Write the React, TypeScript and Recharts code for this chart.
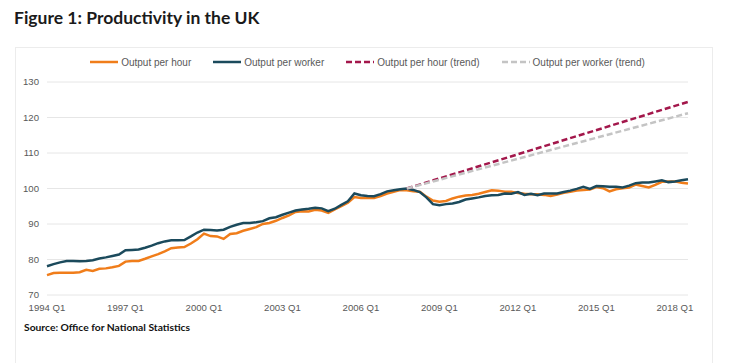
import { LineChart, Line, CartesianGrid, XAxis, YAxis } from "recharts";

// 1994 Q1 .. 2018 Q3, index 100 = 2007 Q4
const FIRST_YEAR = 1994;
const N_QUARTERS = 99;

const outputPerHour = [
  75.6, 76.2, 76.3, 76.3, 76.3, 76.4, 77.1, 76.8, 77.4, 77.5,
  77.8, 78.2, 79.4, 79.6, 79.6, 80.2, 80.9, 81.5, 82.3, 83.2,
  83.4, 83.5, 84.5, 85.7, 87.3, 86.6, 86.5, 85.8, 87.2, 87.4,
  88.1, 88.6, 89.1, 90.0, 90.3, 90.9, 91.7, 92.4, 93.4, 93.6,
  93.5, 94.0, 93.8, 93.1, 94.1, 95.0, 96.0, 97.6, 97.3, 97.3,
  97.3, 97.9, 98.6, 99.1, 99.6, 99.5, 99.2, 99.1, 97.7, 96.6,
  96.3, 96.5, 97.2, 97.7, 98.0, 98.2, 98.5, 99.0, 99.5, 99.4,
  99.1, 99.1, 98.7, 98.5, 98.4, 98.4, 98.2, 97.9, 98.3, 98.8,
  99.1, 99.4, 99.6, 99.7, 100.4, 100.1, 99.2, 99.8, 100.1, 100.3,
  101.1, 100.7, 100.3, 101.0, 101.9, 102.0, 102.0, 101.6, 101.4,
];

const outputPerWorker = [
  78.1, 78.7, 79.2, 79.6, 79.6, 79.5, 79.6, 79.8, 80.3, 80.6,
  81.0, 81.4, 82.6, 82.7, 82.8, 83.3, 83.9, 84.6, 85.1, 85.4,
  85.4, 85.5, 86.5, 87.6, 88.4, 88.3, 88.2, 88.4, 89.2, 89.8,
  90.3, 90.3, 90.5, 90.8, 91.6, 91.9, 92.6, 93.2, 93.8, 94.1,
  94.3, 94.6, 94.4, 93.6, 94.3, 95.4, 96.4, 98.6, 98.1, 97.9,
  97.8, 98.4, 99.2, 99.5, 99.8, 100.0, 99.6, 99.0, 97.5, 95.6,
  95.3, 95.6, 95.8, 96.2, 96.9, 97.2, 97.5, 97.9, 98.1, 98.2,
  98.6, 98.5, 99.0, 98.2, 98.5, 98.1, 98.6, 98.6, 98.6, 99.0,
  99.4, 99.9, 100.5, 99.9, 100.7, 100.6, 100.5, 100.5, 100.3, 100.8,
  101.5, 101.7, 101.7, 102.0, 102.3, 101.8, 102.0, 102.3, 102.6,
];

// trend lines: straight from the pre-crisis peak to the last quarter
const trendStart = 55;
const hourTrend = [100, 124.4];
const workerTrend = [100, 121.2];

const yTicks = [70, 80, 90, 100, 110, 120, 130];

const SERIES = [
  { key: "hour", name: "Output per hour", color: "#f07d1a", dash: undefined },
  { key: "worker", name: "Output per worker", color: "#1b4a5c", dash: undefined },
  { key: "hourTrend", name: "Output per hour (trend)", color: "#a3174b", dash: "6 3" },
  { key: "workerTrend", name: "Output per worker (trend)", color: "#c4c4c4", dash: "6 3" },
];

const data = Array.from({ length: N_QUARTERS }).map((_, i) => {
  const last = N_QUARTERS - 1;
  return {
    q: `${FIRST_YEAR + Math.floor(i / 4)} Q${(i % 4) + 1}`,
    hour: outputPerHour[i],
    worker: outputPerWorker[i],
    hourTrend: i === trendStart ? hourTrend[0] : i === last ? hourTrend[1] : null,
    workerTrend: i === trendStart ? workerTrend[0] : i === last ? workerTrend[1] : null,
  };
});

const axisFont = { fontFamily: "'Liberation Sans', Arial, sans-serif", fontSize: 9.6, fill: "#595959" };

export default function App() {
  return (
    <div style={{ position: "absolute", left: 0, top: 0, width: 749, height: 363, background: "#fff", overflow: "hidden" }}>
      <div
        style={{
          position: "absolute", left: 14, top: 7,
          fontFamily: "Lato, sans-serif", fontWeight: 700, fontSize: 17.5, color: "#1a1a1a",
        }}
      >
        Figure 1: Productivity in the UK
      </div>

      {/* panel border */}
      <div
        style={{
          position: "absolute", left: 15, top: 47, width: 696, height: 340,
          border: "1px solid #ececec",
        }}
      />

      {/* legend */}
      <div
        style={{
          position: "absolute", left: 47, top: 56, width: 641,
          display: "flex", justifyContent: "center", gap: 22,
          fontFamily: "'Liberation Sans', Arial, sans-serif", fontSize: 10, color: "#595959",
        }}
      >
        {SERIES.map((s) => (
          <div key={s.key} style={{ display: "flex", alignItems: "center", gap: 3 }}>
            <svg width={28} height={12}>
              <line x1={0} y1={6} x2={28} y2={6} stroke={s.color} strokeWidth={2.5} strokeDasharray={s.dash} />
            </svg>
            <span>{s.name}</span>
          </div>
        ))}
      </div>

      <div style={{ position: "absolute", left: 0, top: 0 }}>
        <LineChart width={749} height={363} data={data} margin={{ top: 82, right: 61, bottom: 38, left: 0 }}>
          <CartesianGrid vertical={false} stroke="#e6e6e6" />
          <XAxis
            dataKey="q"
            interval={11}
            tickLine={false}
            axisLine={false}
            height={30}
            tickMargin={3}
            tick={axisFont}
          />
          <YAxis
            domain={[70, 130]}
            ticks={yTicks}
            width={47}
            tickLine={false}
            axisLine={false}
            tick={axisFont}
          />
          {SERIES.map((s) => (
            <Line
              key={s.key}
              dataKey={s.key}
              name={s.name}
              stroke={s.color}
              strokeWidth={2.5}
              strokeDasharray={s.dash}
              dot={false}
              connectNulls
              isAnimationActive={false}
            />
          ))}
        </LineChart>
      </div>

      <div
        style={{
          position: "absolute", left: 24, top: 321,
          fontFamily: "Lato, sans-serif", fontWeight: 700, fontSize: 10.3, color: "#111",
        }}
      >
        Source: Office for National Statistics
      </div>
    </div>
  );
}
